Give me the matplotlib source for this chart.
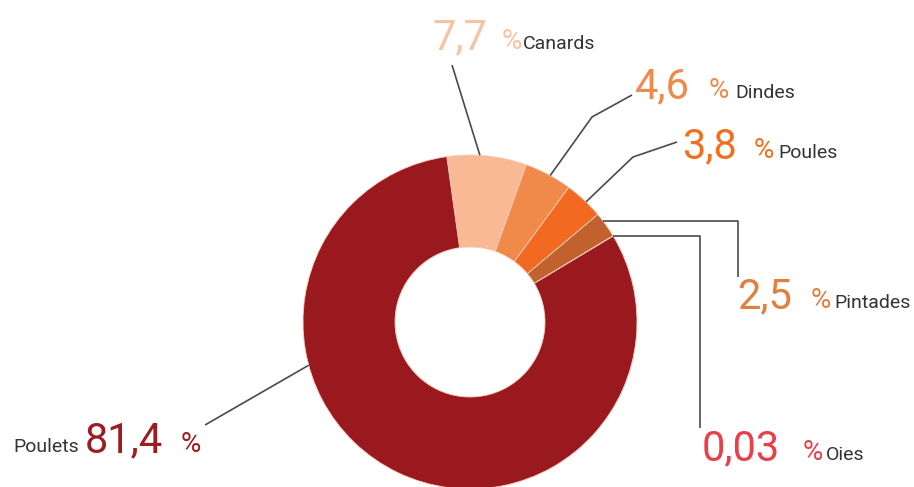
import numpy as np
import matplotlib.pyplot as plt

# Data
categories = ['Canards', 'Dindes', 'Poules', 'Pintades', 'Oies', 'Poulets']
shares = [7.7, 4.6, 3.8, 2.5, 0.03, 81.4]
value_labels = ['7,7', '4,6', '3,8', '2,5', '0,03', '81,4']

wedge_colors = ['#f8b994', '#f08a4b', '#f26a21', '#c1612e', '#f08c86', '#9a191e']
text_colors = ['#f6c4a2', '#ee8a4c', '#f0701f', '#e07f3e', '#e8404a', '#9b1c22']

# Layout (image pixel coords, y measured from top)
W, H = 914, 487
cx_img, cy_img, R, hole = 470, 322, 167, 75
anchor_deg = [86.6, 61.3, 46.0, 37.2, 31.0, 195.0]
leader_paths = [
    [(452, 65)],
    [(592, 117), (632, 95)],
    [(633, 157), (677, 142)],
    [(738, None), (738, 277)],
    [(700, None), (700, 428)],
    [(205, 425)],
]
# (number x, percent x, name x, baseline y)
label_pos = [
    (432, 502, 523, 49),
    (635, 709, 735, 98),
    (682, 754, 778, 158),
    (737, 811, 834, 308),
    (702, 803, 826, 460),
    (85, 181, 13, 452),
]

plt.rcParams['font.family'] = ['Roboto', 'DejaVu Sans']

fig = plt.figure(figsize=(W / 100, H / 100), dpi=100)
ax = fig.add_axes([0, 0, 1, 1])


def Y(y):
    return H - y


cx, cy = cx_img, Y(cy_img)
ax.pie(shares, colors=wedge_colors, startangle=98, counterclock=False,
       center=(cx, cy), radius=R,
       wedgeprops=dict(width=R - hole, edgecolor='#f4cdbb', linewidth=0.6))

# Leader lines
for ang, path in zip(anchor_deg, leader_paths):
    a = np.deg2rad(ang)
    x0, y0 = cx + R * np.cos(a), cy + R * np.sin(a)
    xs, ys = [x0], [y0]
    for px, py in path:
        xs.append(px)
        ys.append(y0 if py is None else Y(py))
    ax.plot(xs, ys, color='#4a4a4a', lw=1.2, solid_capstyle='butt', zorder=1)

# Labels
for cat, val, col, (xn, xp, xc, yb) in zip(categories, value_labels, text_colors, label_pos):
    ax.text(xn, Y(yb), val, color=col, fontsize=30,
            ha='left', va='baseline')
    ax.text(xp, Y(yb), '%', color=col, fontsize=20,
            ha='left', va='baseline')
    ax.text(xc, Y(yb), cat, color='#333333', fontsize=14,
            ha='left', va='baseline')

ax.set_xlim(0, W)
ax.set_ylim(0, H)
ax.set_aspect('equal')
ax.axis('off')

fig.savefig('out.png', dpi=100, facecolor='white')
